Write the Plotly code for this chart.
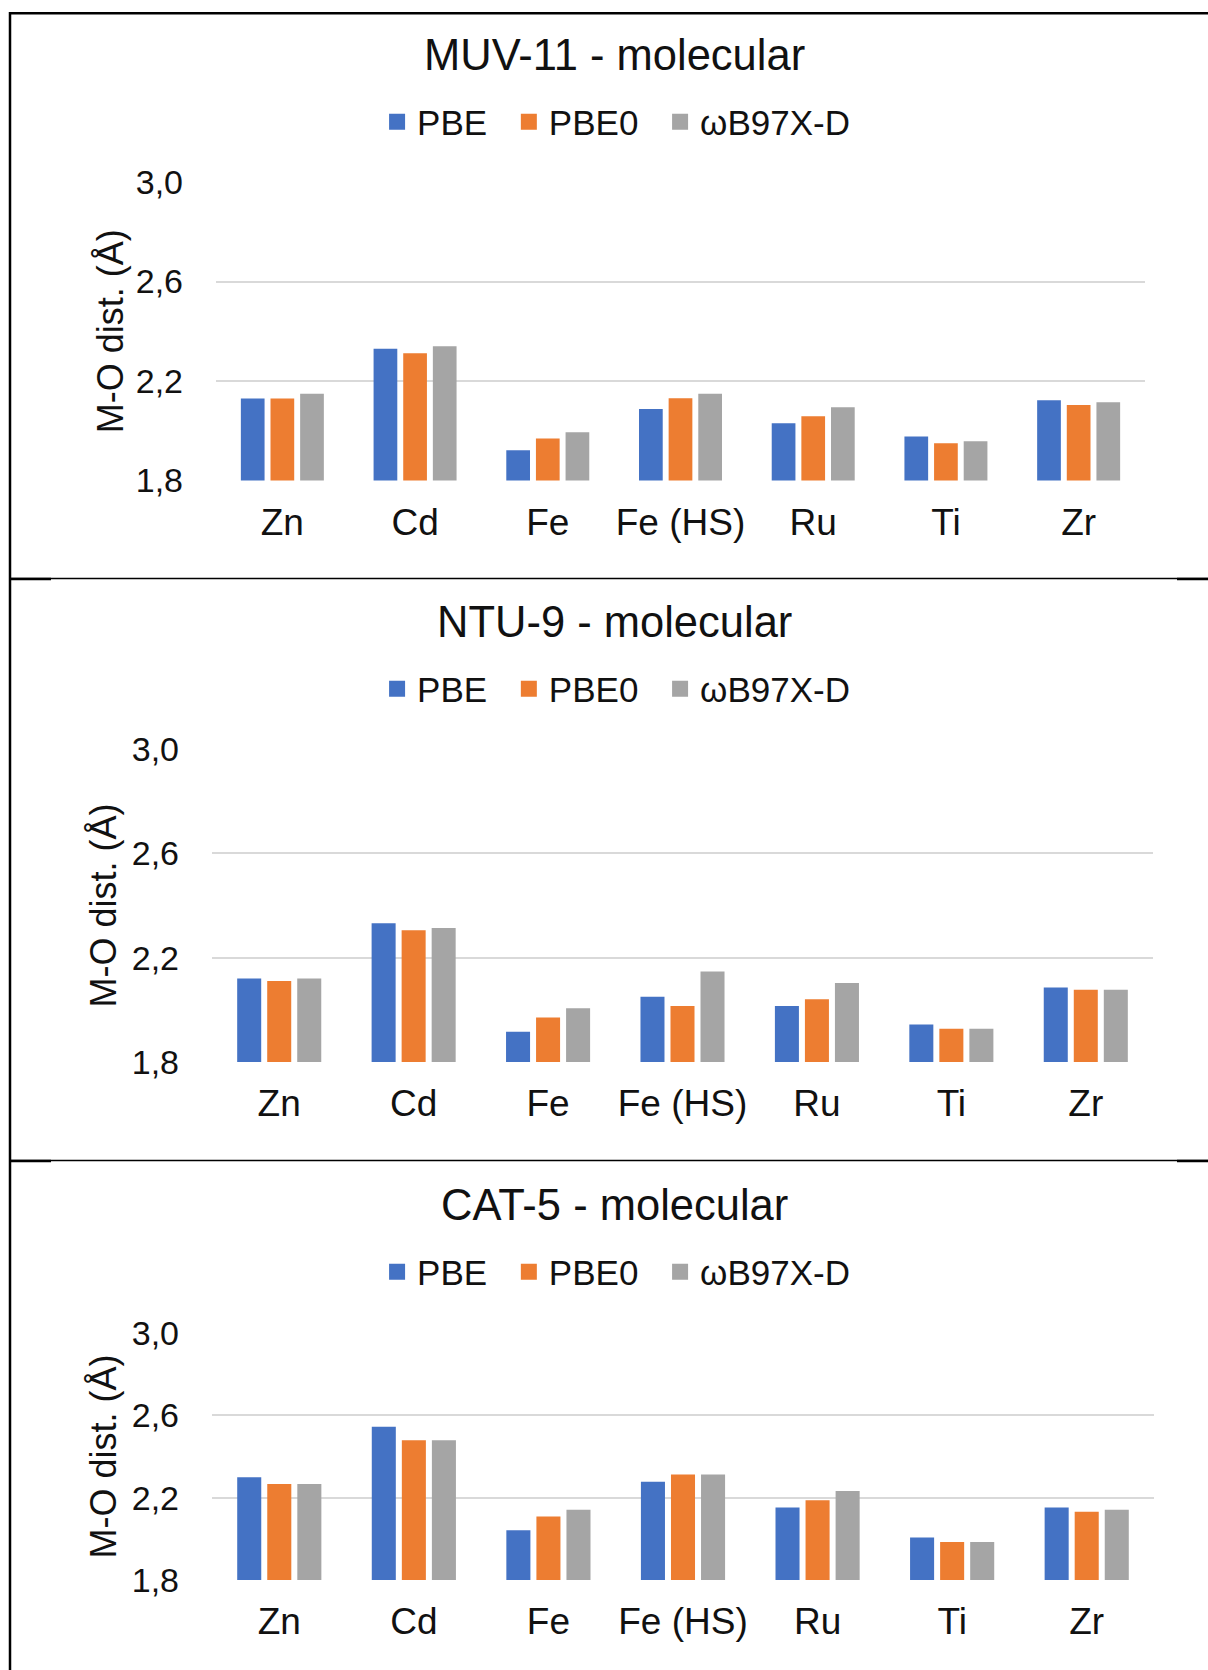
import plotly.graph_objects as go

W, H = 1208, 1670

metals = ["Zn", "Cd", "Fe", "Fe (HS)", "Ru", "Ti", "Zr"]
methods = ["PBE", "PBE0", "ωB97X-D"]
colors = ["#4472C4", "#ED7D31", "#A5A5A5"]
y_ticks = [1.8, 2.2, 2.6, 3.0]

# M-O distances (Å) per metal, one list per functional
muv11_pbe = [2.130, 2.330, 1.922, 2.087, 2.030, 1.977, 2.123]
muv11_pbe0 = [2.130, 2.312, 1.969, 2.131, 2.058, 1.950, 2.104]
muv11_wb97xd = [2.149, 2.340, 1.994, 2.149, 2.094, 1.958, 2.115]

ntu9_pbe = [2.120, 2.332, 1.916, 2.050, 2.015, 1.944, 2.086]
ntu9_pbe0 = [2.111, 2.305, 1.971, 2.015, 2.041, 1.927, 2.077]
ntu9_wb97xd = [2.120, 2.314, 2.006, 2.147, 2.103, 1.927, 2.077]

cat5_pbe = [2.299, 2.545, 2.042, 2.277, 2.152, 2.006, 2.152]
cat5_pbe0 = [2.266, 2.479, 2.109, 2.312, 2.188, 1.985, 2.131]
cat5_wb97xd = [2.266, 2.479, 2.141, 2.312, 2.232, 1.985, 2.141]

panel_titles = ["MUV-11 - molecular", "NTU-9 - molecular", "CAT-5 - molecular"]
panel_series = [
    [muv11_pbe, muv11_pbe0, muv11_wb97xd],
    [ntu9_pbe, ntu9_pbe0, ntu9_wb97xd],
    [cat5_pbe, cat5_pbe0, cat5_wb97xd],
]


def px_x(x):
    return x / W


def px_y(y):
    return 1 - y / H


# pixel geometry of each panel: plot area box, title, legend and axis-title anchors
panels = [
    dict(x0=216, x1=1145, y_top=182, y_bot=480.5, title_y=55, legend_y=122, ytitle_x=110),
    dict(x0=212, x1=1153, y_top=749, y_bot=1062, title_y=622, legend_y=689, ytitle_x=103),
    dict(x0=212, x1=1154, y_top=1333, y_bot=1580, title_y=1205, legend_y=1272, ytitle_x=103),
]

FONT = "Liberation Sans, Arial, sans-serif"
# extra space after each legend label to spread the entries out
PAD = "\u00a0\u2009"

fig = go.Figure()
layout = dict(
    width=W, height=H,
    margin=dict(l=0, r=0, t=0, b=0, autoexpand=False),
    paper_bgcolor="white", plot_bgcolor="white",
    separators=",.",
    barmode="group", bargap=0.33, bargroupgap=0.2,
    font=dict(family=FONT, color="#111111"),
    showlegend=True,
    annotations=[], shapes=[],
)

for i, (p, title, series) in enumerate(zip(panels, panel_titles, panel_series)):
    n = "" if i == 0 else str(i + 1)
    xa, ya = "x" + n, "y" + n
    leg = "legend" + n
    for name, vals, col in zip(methods, series, colors):
        fig.add_trace(go.Bar(
            x=metals, y=vals, name=name, marker=dict(color=col, line=dict(width=0)),
            xaxis=xa, yaxis=ya, showlegend=False,
        ))
    for j, (name, col) in enumerate(zip(methods, colors)):
        fig.add_trace(go.Scatter(
            x=[None], y=[None], mode="markers",
            name=name + (PAD if j < len(methods) - 1 else ""),
            marker=dict(symbol="square", size=16, color=col),
            xaxis=xa, yaxis=ya, legend=leg, showlegend=True,
        ))
    layout["xaxis" + n] = dict(
        domain=[px_x(p["x0"]), px_x(p["x1"])], anchor=ya,
        showgrid=False, showline=False, zeroline=False, ticks="",
        tickfont=dict(size=37, family=FONT, color="#111111"),
        ticklabelstandoff=16,
    )
    layout["yaxis" + n] = dict(
        domain=[px_y(p["y_bot"]), px_y(p["y_top"])], anchor=xa,
        range=[1.8, 3.0], tickvals=y_ticks, tickformat=".1f",
        showgrid=True, gridcolor="#D9D9D9", gridwidth=2,
        showline=False, zeroline=False, ticks="",
        tickfont=dict(size=34, family=FONT, color="#111111"),
        ticklabelstandoff=32,
    )
    layout[leg] = dict(
        orientation="h", x=0.510, xanchor="center",
        y=px_y(p["legend_y"]), yanchor="middle",
        font=dict(size=35, family=FONT, color="#111111"),
        itemsizing="trace", bgcolor="rgba(0,0,0,0)",
    )
    layout["annotations"].append(dict(
        text=title, x=0.509, y=px_y(p["title_y"]), xref="paper", yref="paper",
        showarrow=False, xanchor="center", yanchor="middle",
        font=dict(size=43.5, family=FONT, color="#111111"),
    ))
    layout["annotations"].append(dict(
        text="M-O dist. (Å)", textangle=-90,
        x=px_x(p["ytitle_x"]), y=px_y((p["y_top"] + p["y_bot"]) / 2),
        xref="paper", yref="paper", showarrow=False,
        xanchor="center", yanchor="middle",
        font=dict(size=36, family=FONT, color="#111111"),
    ))

# frame lines around and between the panels
frame = []
frame.append(dict(type="line", x0=px_x(10), x1=px_x(10), y0=px_y(12), y1=px_y(H),
                  line=dict(color="black", width=2.5)))
frame.append(dict(type="line", x0=px_x(9), x1=1, y0=px_y(13.3), y1=px_y(13.3),
                  line=dict(color="black", width=2.5)))
for ys in [578.5, 1160.5]:
    frame.append(dict(type="line", x0=px_x(11), x1=1, y0=px_y(ys), y1=px_y(ys),
                      line=dict(color="black", width=1.3)))
    frame.append(dict(type="line", x0=px_x(11), x1=px_x(51), y0=px_y(ys + 0.5), y1=px_y(ys + 0.5),
                      line=dict(color="black", width=2.5)))
    frame.append(dict(type="line", x0=px_x(1177), x1=1, y0=px_y(ys + 0.5), y1=px_y(ys + 0.5),
                      line=dict(color="black", width=2.5)))
for s in frame:
    s.update(xref="paper", yref="paper")
layout["shapes"] = frame

fig.update_layout(**layout)
fig.write_html("out.html")
